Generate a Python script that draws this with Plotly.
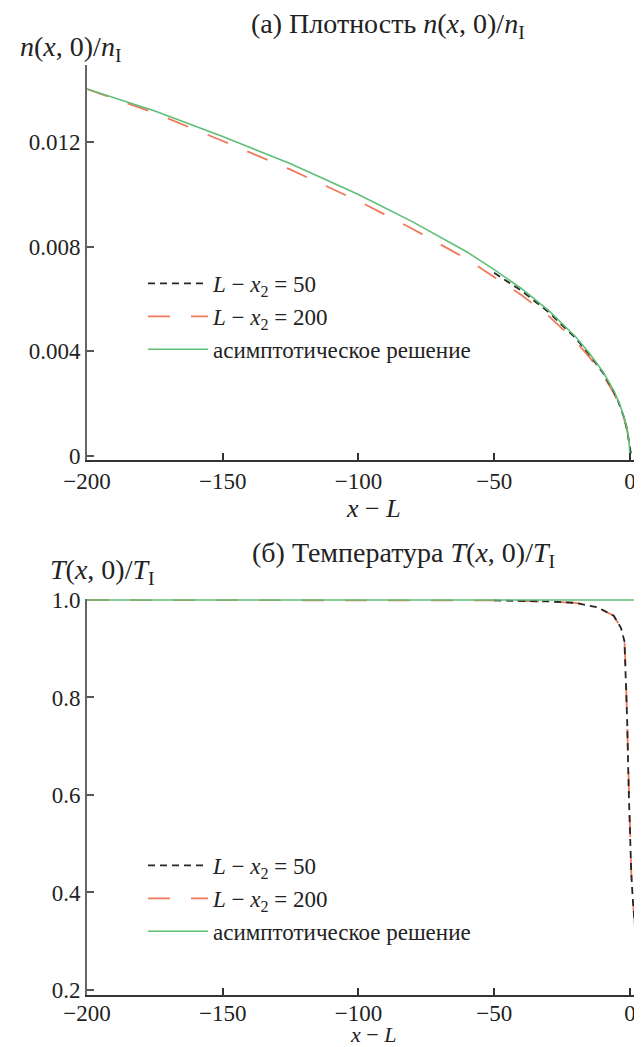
import plotly.graph_objects as go

# ---------------- data ----------------
# (a) density n(x,0)/n_I versus x - L
x_n_asym = [-200, -175, -150, -125, -100, -80, -60, -50, -40, -30, -20, -15, -10, -6, -4, -2, -1, -0.3, 0]
n_asym = [0.01404, 0.01320, 0.01222, 0.01118, 0.01000, 0.00895, 0.00780, 0.00712, 0.00640, 0.00556,
          0.00455, 0.00393, 0.00322, 0.00250, 0.00203, 0.00143, 0.00100, 0.00050, 0.0]

x_n_200 = [-200, -175, -150, -125, -100, -80, -60, -50, -40, -30, -20, -15, -10, -6, -4, -2, -1, -0.3, 0.3, 2, 7.4]
n_200 = [0.01404, 0.01312, 0.01205, 0.01095, 0.00975, 0.00868, 0.00752, 0.00685, 0.00615, 0.00535,
         0.00438, 0.00378, 0.00310, 0.00240, 0.00195, 0.00135, 0.00095, 0.00050, 0.00012, 0.00005, 0.00003]

x_n_50 = [-50, -40, -30, -20, -15, -10, -6, -4, -2, -1, -0.3, 0.3, 2, 7.4]
n_50 = [0.00700, 0.00632, 0.00550, 0.00450, 0.00388, 0.00318, 0.00246, 0.00200, 0.00140, 0.00098,
        0.00050, 0.00012, 0.00005, 0.00003]

# (б) temperature T(x,0)/T_I versus x - L
x_T_asym = [-200, 7.4]
T_asym = [1.0, 1.0]

x_T_200 = [-200, -100, -50, -30, -20, -12, -6, -3.3, -2, -1.5, -1, -0.5, 0, 0.5, 1, 2, 3, 4, 5, 6, 7.4]
T_200 = [1.0, 0.9995, 0.999, 0.997, 0.994, 0.985, 0.968, 0.943, 0.915, 0.85, 0.75, 0.62, 0.52,
         0.44, 0.39, 0.32, 0.285, 0.26, 0.247, 0.237, 0.228]

x_T_50 = [-50, -40, -30, -20, -12, -6, -3.3, -2, -1.5, -1, -0.5, 0, 0.5, 1, 2, 3, 4, 5, 6, 7.4]
T_50 = [0.999, 0.998, 0.997, 0.994, 0.985, 0.968, 0.943, 0.915, 0.85, 0.75, 0.62, 0.52,
        0.44, 0.39, 0.32, 0.285, 0.26, 0.247, 0.237, 0.228]

x_ticks = [-200, -150, -100, -50, 0]
x_ticktext = ["\u2212200", "\u2212150", "\u2212100", "\u221250", "0"]
n_ticks = [0, 0.004, 0.008, 0.012]
n_ticktext = ["0", "0.004", "0.008", "0.012"]
T_ticks = [0.2, 0.4, 0.6, 0.8, 1.0]
T_ticktext = ["0.2", "0.4", "0.6", "0.8", "1.0"]

name_50 = "<i>L</i> \u2212 <i>x</i><sub>2</sub> = 50"
name_200 = "<i>L</i> \u2212 <i>x</i><sub>2</sub> = 200"
name_asym = "асимптотическое решение"

# ---------------- style ----------------
FONT = "Liberation Serif"
C_BLACK = "#262626"
C_RED = "#EE7A5C"
C_GREEN = "#5EBF76"
W, H = 642, 1047

fig = go.Figure()

def add_set(xa, ya, leg, data):
    (x200, y200), (x50, y50), (xas, yas) = data
    fig.add_trace(go.Scatter(x=x200, y=y200, mode="lines", name=name_200, legend=leg, legendrank=2,
                             line=dict(color=C_RED, width=1.8, dash="22px,21px"), xaxis=xa, yaxis=ya))
    fig.add_trace(go.Scatter(x=x50, y=y50, mode="lines", name=name_50, legend=leg, legendrank=1,
                             line=dict(color=C_BLACK, width=1.8, dash="7px,5px"), xaxis=xa, yaxis=ya))
    fig.add_trace(go.Scatter(x=xas, y=yas, mode="lines", name=name_asym, legend=leg, legendrank=3,
                             line=dict(color=C_GREEN, width=1.6), xaxis=xa, yaxis=ya))

add_set("x", "y", "legend", [(x_n_200, n_200), (x_n_50, n_50), (x_n_asym, n_asym)])
add_set("x2", "y2", "legend2", [(x_T_200, T_200), (x_T_50, T_50), (x_T_asym, T_asym)])

def px_x(p):
    return p / W

def px_y(p):
    return 1 - p / H

tickfont = dict(family=FONT, size=23, color="#222")
common_x = dict(range=[-200, 7.4], tickvals=x_ticks, ticktext=x_ticktext, ticks="inside", ticklen=7,
                tickwidth=1.5, tickcolor="#333", showline=True, linecolor="#333", linewidth=1.5,
                showgrid=False, zeroline=False, tickfont=tickfont, domain=[px_x(79), 1.0],
                automargin=False)
common_y = dict(ticks="inside", ticklen=7, tickwidth=1.5, tickcolor="#555", showline=True,
                linecolor="#666", linewidth=2, showgrid=False, zeroline=False, tickfont=tickfont,
                automargin=False)

leg_font = dict(family=FONT, size=23, color="#222")
fig.update_layout(
    width=W, height=H,
    margin=dict(l=0, r=0, t=0, b=0, autoexpand=False),
    paper_bgcolor="white", plot_bgcolor="white",
    showlegend=True,
    xaxis=dict(**common_x, anchor="y"),
    yaxis=dict(**common_y, range=[-0.00017, 0.01496], tickvals=n_ticks, ticktext=n_ticktext,
               domain=[px_y(452), px_y(57)], anchor="x"),
    xaxis2=dict(**common_x, anchor="y2", ticklabelstandoff=-3),
    yaxis2=dict(**common_y, range=[0.1897, 1.002], tickvals=T_ticks, ticktext=T_ticktext,
                domain=[px_y(987), px_y(591)], anchor="x2"),
    legend=dict(x=px_x(135), y=px_y(254), xanchor="left", yanchor="top", bgcolor="rgba(0,0,0,0)",
                font=leg_font, itemwidth=60, tracegroupgap=0),
    legend2=dict(x=px_x(135), y=px_y(836), xanchor="left", yanchor="top", bgcolor="rgba(0,0,0,0)",
                 font=leg_font, itemwidth=60, tracegroupgap=0),
)

lab_font = dict(family=FONT, size=28, color="#222")
annots = [
    dict(text="(а) Плотность <i>n</i>(<i>x</i>, 0)/<i>n</i><sub>I</sub>", x=px_x(380), y=px_y(18),
         xanchor="center", yanchor="middle", font=lab_font),
    dict(text="<i>n</i>(<i>x</i>, 0)/<i>n</i><sub>I</sub>", x=px_x(10), y=px_y(41),
         xanchor="left", yanchor="middle", font=lab_font),
    dict(text="<i>x</i> \u2212 <i>L</i>", x=px_x(365), y=px_y(501), xanchor="center", yanchor="middle",
         font=dict(family=FONT, size=26, color="#222")),
    dict(text="(б) Температура <i>T</i>(<i>x</i>, 0)/<i>T</i><sub>I</sub>", x=px_x(395), y=px_y(546),
         xanchor="center", yanchor="middle", font=lab_font),
    dict(text="<i>T</i>(<i>x</i>, 0)/<i>T</i><sub>I</sub>", x=px_x(40), y=px_y(563),
         xanchor="left", yanchor="middle", font=lab_font),
    dict(text="<i>x</i> \u2212 <i>L</i>", x=px_x(365), y=px_y(1026), xanchor="center", yanchor="middle",
         font=dict(family=FONT, size=22, color="#222")),
]
for a in annots:
    fig.add_annotation(xref="paper", yref="paper", showarrow=False, **a)

fig.write_html("out.html")
